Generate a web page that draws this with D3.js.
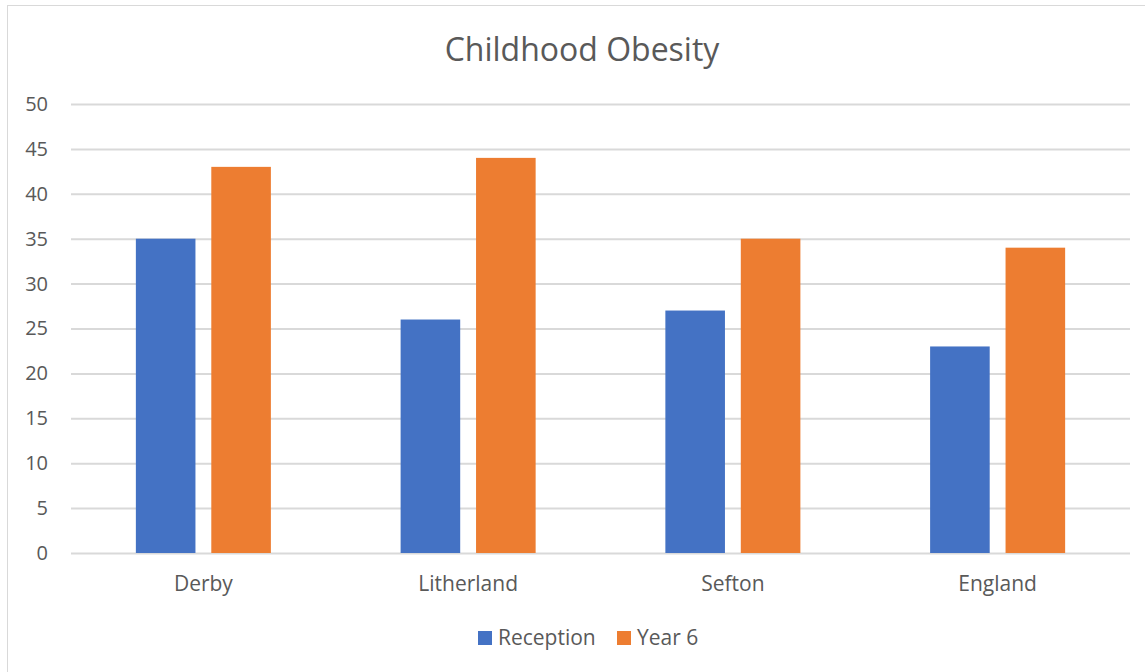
<!DOCTYPE html>
<html>
<head>
<meta charset="utf-8">
<script src="https://cdn.jsdelivr.net/npm/d3@7"></script>
<style>
  body { margin: 0; background: #fff; }
  text { font-family: "Open Sans", sans-serif; fill: #595959; }
</style>
</head>
<body>
<div id="chart"></div>
<script>
const categories = ["Derby", "Litherland", "Sefton", "England"]
const seriesNames = ["Reception", "Year 6"]
const reception = [35, 26, 27, 23]
const year6 = [43, 44, 35, 34]
const yTicks = [0, 5, 10, 15, 20, 25, 30, 35, 40, 45, 50]
const colors = ["#4472C4", "#ED7D31"]

const W = 1145, H = 672
const MARGIN = {TOP: 104, BOTTOM: 119, LEFT: 71, RIGHT: 15}
const WIDTH = W - MARGIN.LEFT - MARGIN.RIGHT
const HEIGHT = H - MARGIN.TOP - MARGIN.BOTTOM

const data = categories.map((c, i) => ({name: c, values: [reception[i], year6[i]]}))

const svg = d3.select("#chart").append("svg")
  .attr("width", W)
  .attr("height", H)

// chart frame
svg.append("rect")
  .attr("x", 7.5).attr("y", 5.5)
  .attr("width", W + 10).attr("height", H + 10)
  .attr("fill", "none")
  .attr("stroke", "#d9d9d9")
  .attr("stroke-width", 1)

svg.append("text")
  .attr("x", 582)
  .attr("y", 61)
  .attr("text-anchor", "middle")
  .style("font-size", "32px")
  .text("Childhood Obesity")

const g = svg.append("g")
  .attr("transform", `translate(${MARGIN.LEFT}, ${MARGIN.TOP})`)

const y = d3.scaleLinear().domain([0, 50]).range([HEIGHT, 0])

const x = d3.scaleBand()
  .domain(categories)
  .range([0, WIDTH])
  .paddingInner(0.49)
  .paddingOuter(0.245)

const x1 = d3.scaleBand()
  .domain(seriesNames)
  .range([0, x.bandwidth()])
  .paddingInner(0.21)

// gridlines
g.append("g")
  .call(d3.axisLeft(y).tickValues(yTicks).tickSize(-WIDTH).tickFormat(""))
  .call(a => a.select(".domain").remove())
  .call(a => a.selectAll("line").attr("stroke", "#d9d9d9").attr("stroke-width", 2))

// y labels
g.append("g")
  .call(d3.axisLeft(y).tickValues(yTicks).tickSize(0).tickPadding(23))
  .call(a => a.select(".domain").remove())
  .call(a => a.selectAll("text").style("font-size", "20px").style("font-family", "'Open Sans', sans-serif").attr("fill", "#595959"))

// x labels
g.append("g")
  .attr("transform", `translate(0, ${HEIGHT})`)
  .call(d3.axisBottom(x).tickSize(0).tickPadding(23))
  .call(a => a.select(".domain").remove())
  .call(a => a.selectAll("text").style("font-size", "21px").style("font-family", "'Open Sans', sans-serif").attr("fill", "#595959"))

// bars
g.append("g").selectAll("g")
  .data(data)
  .join("g")
    .attr("transform", d => `translate(${x(d.name)}, 0)`)
  .selectAll("rect")
  .data(d => d.values.map((v, i) => ({series: seriesNames[i], value: v, i})))
  .join("rect")
    .attr("x", d => x1(d.series))
    .attr("y", d => y(d.value))
    .attr("width", x1.bandwidth())
    .attr("height", d => HEIGHT - y(d.value))
    .attr("fill", d => colors[d.i])

// legend
const legendX = [478, 617]
const legend = svg.append("g").selectAll("g")
  .data(seriesNames)
  .join("g")
    .attr("transform", (d, i) => `translate(${legendX[i]}, 631)`)
legend.append("rect")
  .attr("width", 14).attr("height", 14)
  .attr("fill", (d, i) => colors[i])
legend.append("text")
  .attr("x", 20)
  .attr("y", 14)
  .style("font-size", "21px")
  .text(d => d)
</script>
</body>
</html>
